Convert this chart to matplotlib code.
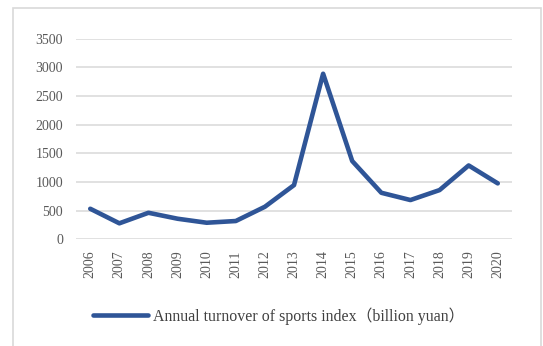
import matplotlib
matplotlib.use("Agg")
import matplotlib.pyplot as plt
from matplotlib.patches import Rectangle

years = [str(y) for y in range(2006, 2021)]
turnover = [533, 279, 463, 359, 289, 319, 568, 946, 2890, 1366, 812, 685, 859, 1289, 976]
yticks = [0, 500, 1000, 1500, 2000, 2500, 3000, 3500]
label = "Annual turnover of sports index（billion yuan）"

plt.rcParams["font.family"] = ["Liberation Serif", "Noto Sans CJK SC"]

fig = plt.figure(figsize=(5.43, 3.46), dpi=100)
ax = fig.add_axes([0.1394, 0.3084, 0.8041, 0.5795])

# outer chart frame, open at the bottom
fig.patches.append(Rectangle((13 / 543, -0.05), 528 / 543, 1.05 - 8 / 346,
                             transform=fig.transFigure, fill=False,
                             edgecolor="#D9D9D9", linewidth=1.2))

x = list(range(len(years)))
ax.plot(x, turnover, color="#2F5597", linewidth=3.3,
        solid_capstyle="round", solid_joinstyle="round", label=label, zorder=3)

ax.set_xlim(-0.5, len(years) - 0.5)
ax.set_ylim(0, 3500)
ax.set_yticks(yticks)
ax.set_xticks(x)
ax.set_xticklabels(years, rotation=90)
ax.grid(axis="y", color="#D9D9D9", linewidth=1.1)
ax.set_axisbelow(True)
for s in ax.spines.values():
    s.set_visible(False)
ax.tick_params(axis="both", length=0, labelsize=10, labelcolor="#595959")
ax.tick_params(axis="x", pad=8)
ax.tick_params(axis="y", pad=9)

fig.legend(loc="center", bbox_to_anchor=(0.513, 0.087), frameon=False,
           handlelength=3.5, handletextpad=0.3,
           prop={"size": 11.4}, labelcolor="#404040")

fig.savefig("out.png", dpi=100)
